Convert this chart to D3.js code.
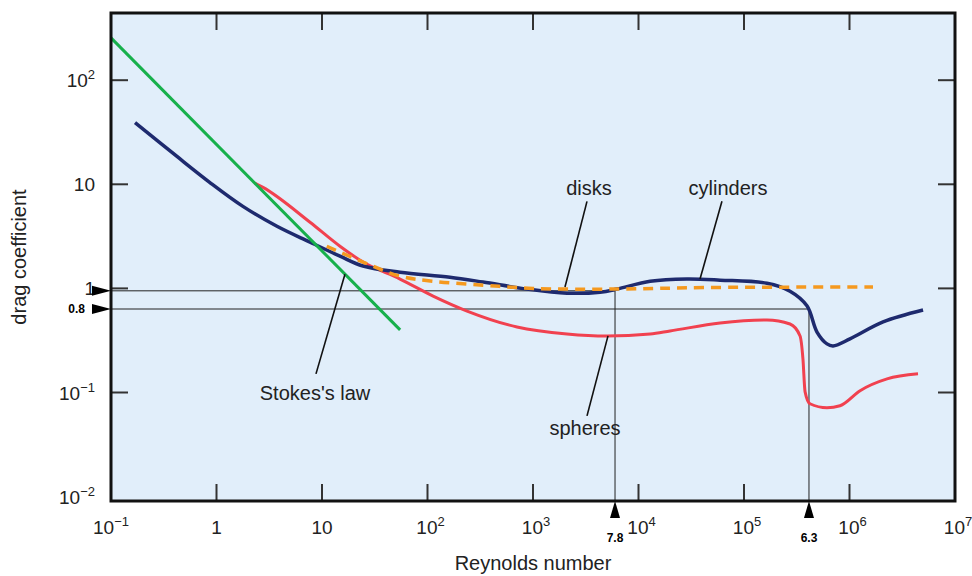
<!DOCTYPE html>
<html>
<head>
<meta charset="utf-8">
<script src="https://cdn.jsdelivr.net/npm/d3@7"></script>
<style>
  html, body { margin: 0; padding: 0; background: #fff; }
  svg { display: block; font-family: "Liberation Sans", Arial, Helvetica, sans-serif; }
</style>
</head>
<body>
<div id="app"></div>
<script>
// values: [Reynolds number, drag coefficient]
const stokes = [[0.1, 255], [55, 0.40]];

const spheres = [
  [2.3, 10.3], [2.76, 9.34], [7.7, 4.32], [14.8, 2.54], [24.5, 1.79], [54.9, 1.23],
  [113, 0.844], [237, 0.606], [705, 0.426], [2100, 0.365], [5030, 0.349],
  [12900, 0.365], [19900, 0.39], [59300, 0.465], [165000, 0.497],
  [273000, 0.455], [340000, 0.349], [362000, 0.21], [379000, 0.102],
  [422000, 0.078], [612000, 0.0714], [813000, 0.0746], [1.26e6, 0.104],
  [2.27e6, 0.135], [4.46e6, 0.151]
];

const cylinders = [
  [0.169, 39.2], [0.422, 18.5], [0.867, 10.4], [1.78, 6.14], [3.74, 3.95],
  [7.7, 2.78], [14.8, 2.04], [24.5, 1.64], [54.9, 1.43], [163, 1.28],
  [336, 1.15], [877, 0.985], [2100, 0.90], [4320, 0.92], [6250, 0.985],
  [12900, 1.17], [28800, 1.23], [59300, 1.20], [165000, 1.12],
  [273000, 0.94], [395000, 0.68], [492000, 0.381], [612000, 0.293],
  [698000, 0.28], [1.01e6, 0.327], [2.08e6, 0.476], [4.98e6, 0.62]
];

const disks = [
  [11.1, 2.54], [24.5, 1.79], [54.9, 1.31], [113, 1.17], [336, 1.075],
  [1000, 1.0], [6250, 0.985], [44600, 1.02], [1.67e6, 1.03]
];

// marker lines: level on the Cd axis and where they meet the Re axis
const cdMarks = [{ cd: 0.948, label: '' }, { cd: 0.634, label: '0.8' }];
const reMarks = [{ re: 5990, label: '7.8' }, { re: 413000, label: '6.3' }];

const xTicks = [-1, 0, 1, 2, 3, 4, 5, 6, 7];
const yTicks = [-2, -1, 0, 1, 2];

const labels = [
  { text: 'disks', at: [589, 188], from: [3250, 6.86], to: [2010, 1.03] },
  { text: 'cylinders', at: [728, 188], from: [61800, 6.86], to: [38300, 1.23] },
  { text: "Stokes's law", at: [315, 393], from: [16.5, 1.37], to: [8.77, 0.151] },
  { text: 'spheres', at: [585, 428], from: [5140, 0.35], to: [3250, 0.0596] }
];

const width = 972;
const height = 576;
const plot = { left: 111, right: 955, top: 13, bottom: 501 };

const x = d3.scaleLog().domain([0.1, 1e7]).range([plot.left, plot.right]);
const y = d3.scaleLog().domain([0.01, 100]).range([496.6, 80.2]);

const svg = d3.select('#app').append('svg')
  .attr('width', width)
  .attr('height', height);

svg.append('rect')
  .attr('x', plot.left).attr('y', plot.top)
  .attr('width', plot.right - plot.left)
  .attr('height', plot.bottom - plot.top)
  .attr('fill', '#e1eefa');

// inside ticks on all four sides
const tickLen = 17;
const tickG = svg.append('g').attr('stroke', '#333').attr('stroke-width', 2);
xTicks.slice(1, -1).forEach(k => {
  const px = x(Math.pow(10, k));
  tickG.append('line').attr('x1', px).attr('x2', px)
    .attr('y1', plot.bottom).attr('y2', plot.bottom - tickLen);
  tickG.append('line').attr('x1', px).attr('x2', px)
    .attr('y1', plot.top).attr('y2', plot.top + tickLen);
});
yTicks.slice(1).forEach(k => {
  const py = y(Math.pow(10, k));
  tickG.append('line').attr('y1', py).attr('y2', py)
    .attr('x1', plot.left).attr('x2', plot.left + tickLen);
  tickG.append('line').attr('y1', py).attr('y2', py)
    .attr('x1', plot.right).attr('x2', plot.right - tickLen);
});

// reference lines for the drag crisis
const refG = svg.append('g').attr('stroke', '#222').attr('stroke-width', 1).attr('fill', 'none');
cdMarks.forEach((m, i) => {
  const r = reMarks[i];
  refG.append('path')
    .attr('d', `M${plot.left},${y(m.cd)}H${x(r.re)}V${plot.bottom}`);
});

const smooth = d3.line()
  .x(d => x(d[0]))
  .y(d => y(d[1]))
  .curve(d3.curveCatmullRom.alpha(0.5));

const mono = d3.line()
  .x(d => x(d[0]))
  .y(d => y(d[1]))
  .curve(d3.curveMonotoneX);

svg.append('path').datum(spheres)
  .attr('d', mono).attr('fill', 'none')
  .attr('stroke', '#f1414f').attr('stroke-width', 3);

svg.append('path').datum(cylinders)
  .attr('d', smooth).attr('fill', 'none')
  .attr('stroke', '#1e2a6e').attr('stroke-width', 3.5);

svg.append('path').datum(stokes)
  .attr('d', d3.line().x(d => x(d[0])).y(d => y(d[1])))
  .attr('fill', 'none')
  .attr('stroke', '#17b04b').attr('stroke-width', 3);

svg.append('path').datum(disks)
  .attr('d', smooth).attr('fill', 'none')
  .attr('stroke', '#f5991f').attr('stroke-width', 3.5)
  .attr('stroke-dasharray', '10 7');

// leader lines and labels
labels.forEach(l => {
  svg.append('line')
    .attr('x1', x(l.from[0])).attr('y1', y(l.from[1]))
    .attr('x2', x(l.to[0])).attr('y2', y(l.to[1]))
    .attr('stroke', '#111').attr('stroke-width', 1.6);
  svg.append('text')
    .attr('x', l.at[0]).attr('y', l.at[1])
    .attr('text-anchor', 'middle').attr('dy', '0.35em')
    .attr('font-size', 20).attr('fill', '#222')
    .text(l.text);
});

// frame
svg.append('rect')
  .attr('x', plot.left).attr('y', plot.top)
  .attr('width', plot.right - plot.left)
  .attr('height', plot.bottom - plot.top)
  .attr('fill', 'none').attr('stroke', '#111').attr('stroke-width', 3);

// power-of-ten label
const powLabel = (sel, k) => {
  if (k === 0) { sel.append('tspan').text('1'); return; }
  if (k === 1) { sel.append('tspan').text('10'); return; }
  sel.append('tspan').text('10');
  sel.append('tspan').attr('dy', -8).attr('font-size', 13)
    .text(k < 0 ? '\u2212' + (-k) : String(k));
};

xTicks.forEach(k => {
  const t = svg.append('text')
    .attr('x', x(Math.pow(10, k)) + (Math.abs(k) > 1 ? 3 : 0))
    .attr('y', 534)
    .attr('text-anchor', 'middle')
    .attr('font-size', 19).attr('fill', '#222');
  powLabel(t, k);
});

yTicks.forEach(k => {
  const t = svg.append('text')
    .attr('x', 95)
    .attr('y', y(Math.pow(10, k)) + 7)
    .attr('text-anchor', 'end')
    .attr('font-size', 19).attr('fill', '#222');
  powLabel(t, k);
});

// arrows on the axes
const arrowG = svg.append('g').attr('fill', '#000');
cdMarks.forEach(m => {
  const py = y(m.cd);
  arrowG.append('path')
    .attr('d', `M${plot.left - 19},${py - 5}L${plot.left},${py}L${plot.left - 19},${py + 5}Z`);
  if (m.label) {
    svg.append('text')
      .attr('x', 85).attr('y', py).attr('dy', '0.35em')
      .attr('text-anchor', 'end')
      .attr('font-size', 12).attr('font-weight', 'bold')
      .text(m.label);
  }
});
reMarks.forEach(m => {
  const px = x(m.re);
  arrowG.append('path')
    .attr('d', `M${px - 5},${plot.bottom + 17}L${px},${plot.bottom}L${px + 5},${plot.bottom + 17}Z`);
  svg.append('text')
    .attr('x', px).attr('y', 538).attr('dy', '0.35em')
    .attr('text-anchor', 'middle')
    .attr('font-size', 12).attr('font-weight', 'bold')
    .text(m.label);
});

// axis titles
svg.append('text')
  .attr('x', 533).attr('y', 563).attr('dy', '0.35em')
  .attr('text-anchor', 'middle')
  .attr('font-size', 20).attr('fill', '#222')
  .text('Reynolds number');

svg.append('text')
  .attr('transform', 'translate(19,257) rotate(-90)')
  .attr('dy', '0.35em')
  .attr('text-anchor', 'middle')
  .attr('font-size', 20).attr('fill', '#222')
  .text('drag coefficient');
</script>
</body>
</html>
